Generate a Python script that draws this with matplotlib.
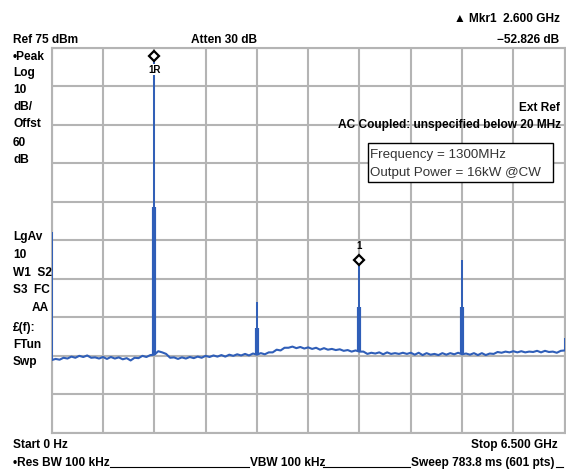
import numpy as np
import matplotlib
matplotlib.use('Agg')
import matplotlib.pyplot as plt
from matplotlib import font_manager
from matplotlib.patches import Rectangle

# spectrum analyser screen: 0 - 6.5 GHz, ref 75 dBm, 10 dB/div
start_ghz = 0.0
stop_ghz = 6.5
ref_dbm = 75
db_per_div = 10

# noise floor read every 50 MHz (dBm)
floor_dbm = [
    -6.1, -5.8, -6.0, -5.5, -5.7, -5.2, -5.5, -5.0, -5.3, -4.9,
    -5.5, -5.4, -5.7, -5.3, -5.8, -5.3, -5.7, -5.4, -5.9, -5.6,
    -6.2, -5.5, -5.6, -5.0, -5.3, -4.8, -4.7, -3.8, -4.1, -4.5,
    -5.5, -5.4, -5.8, -5.4, -5.7, -5.3, -5.6, -5.2, -5.5, -5.0,
    -5.3, -4.9, -5.2, -4.8, -5.2, -4.7, -5.0, -4.6, -4.9, -4.5,
    -4.9, -4.4, -4.7, -4.3, -4.6, -4.1, -4.1, -3.4, -3.6, -2.9,
    -2.9, -2.6, -3.0, -2.7, -3.1, -2.8, -3.2, -2.9, -3.4, -3.0,
    -3.4, -3.2, -3.5, -3.3, -3.7, -3.5, -3.9, -3.6, -3.9, -3.9,
    -4.5, -4.2, -4.4, -4.1, -4.6, -4.1, -4.5, -4.3, -4.5, -4.2,
    -4.5, -4.2, -4.7, -4.2, -4.8, -4.3, -4.7, -4.5, -4.8, -4.3,
    -4.7, -4.3, -4.6, -4.2, -4.6, -4.4, -4.7, -4.3, -4.8, -4.3,
    -4.8, -4.4, -4.5, -4.0, -4.2, -3.9, -4.1, -3.8, -4.1, -3.8,
    -4.1, -3.9, -4.0, -3.7, -4.1, -3.7, -4.0, -3.9, -4.2, -3.7,
    -3.6,
]
floor_ghz = np.linspace(start_ghz, stop_ghz, len(floor_dbm))

# discrete lines: LO feedthrough, carrier, harmonics, band edge
spike_ghz = [0.0, 1.3, 2.6, 3.9, 5.2, 6.5]
spike_peak_dbm = [27.2, 72.9, 9.1, 20.0, 19.8, -0.3]
spike_shoulder_dbm = [np.nan, 33.7, 2.3, 7.8, 7.7, np.nan]

trace_col = '#2f5eb8'
grid_col = '#b4b4b4'
W, H = 566, 470

# narrow bold font like the instrument screen, if there is one
names = {f.name for f in font_manager.fontManager.ttflist}
if 'Liberation Sans Narrow' in names:
    fam, fs = 'Liberation Sans Narrow', 10.5
else:
    fam, fs = 'Liberation Sans', 8.6
plt.rcParams['font.family'] = [fam, 'DejaVu Sans']
plt.rcParams['font.weight'] = 'bold'

fig = plt.figure(figsize=(W / 100, H / 100), dpi=100)
fig.patch.set_facecolor('white')

ax_l, ax_r, ax_t, ax_b = 51.7, 564.7, 48.0, 432.8
ax = fig.add_axes([ax_l / W, 1 - ax_b / H, (ax_r - ax_l) / W, (ax_b - ax_t) / H])
ax.set_xlim(start_ghz, stop_ghz)
ax.set_ylim(ref_dbm - 10 * db_per_div, ref_dbm)
ax.set_xticks(np.linspace(start_ghz, stop_ghz, 11))
ax.set_yticks(np.arange(ref_dbm - 10 * db_per_div, ref_dbm + 1, db_per_div))
ax.tick_params(length=0, labelbottom=False, labelleft=False)
ax.grid(True, color=grid_col, lw=1.5)
ax.set_axisbelow(True)
for s in ax.spines.values():
    s.set_color(grid_col)
    s.set_linewidth(1.5)

# trace
ax.plot(floor_ghz, floor_dbm, color=trace_col, lw=1.5, zorder=3)
base = np.interp(spike_ghz, floor_ghz, floor_dbm)
ax.vlines(spike_ghz, base, spike_peak_dbm, color=trace_col, lw=1.4, zorder=3)
ax.vlines(spike_ghz, base, spike_shoulder_dbm, color=trace_col, lw=3.0, zorder=3)

# markers
ax.plot([1.3], [spike_peak_dbm[1]], marker='D', ms=5, mfc='white', mec='black', mew=1.6,
        zorder=5, clip_on=False)
ax.annotate('1R', (1.3, spike_peak_dbm[1]), xytext=(0, -10), textcoords='offset points',
            ha='center', va='center', fontsize=7, zorder=6,
            bbox=dict(boxstyle='square,pad=0.05', fc='white', ec='none'))
ax.plot([3.9], [spike_peak_dbm[3]], marker='D', ms=5, mfc='white', mec='black', mew=1.6, zorder=5)
ax.annotate('1', (3.9, spike_peak_dbm[3]), xytext=(0, 10), textcoords='offset points',
            ha='center', va='center', fontsize=7, zorder=6)


def ftxt(x, y, s, ha='left', **kw):
    fig.text(x / W, 1 - y / H, s, ha=ha, va='baseline', fontsize=fs, **kw)


# header
ftxt(13, 43, 'Ref 75 dBm')
ftxt(191, 43, 'Atten 30 dB')
ftxt(560, 22, '▲ Mkr1  2.600 GHz', ha='right')
ftxt(559, 43, '\u221252.826 dB', ha='right')

# left annotation column
for y, s in zip([60, 76, 93, 110, 127, 146, 163],
                ['•Peak', 'Log', '10', 'dB/', 'Offst', '60', 'dB']):
    ftxt(13, y, s)
for y, s in zip([240, 258, 276, 293, 331, 348, 365],
                ['LgAv', '10', 'W1  S2', 'S3  FC', '£(f):', 'FTun', 'Swp']):
    ftxt(13, y, s)
ftxt(49, 311, 'AA', ha='right')

ftxt(560, 111, 'Ext Ref', ha='right')
ftxt(561, 128, 'AC Coupled: unspecified below 20 MHz', ha='right')

# footer
ftxt(13, 448, 'Start 0 Hz')
ftxt(558, 448, 'Stop 6.500 GHz', ha='right')
ftxt(13, 466, '•Res BW 100 kHz')
ftxt(250, 466, 'VBW 100 kHz')
ftxt(411, 466, 'Sweep 783.8 ms (601 pts)')
for x0, x1 in [(110, 249), (323, 410), (556, 563)]:
    fig.add_artist(plt.Line2D([x0 / W, x1 / W], [1 - 467 / H, 1 - 467 / H],
                              color='black', lw=0.8))

# info box
fig.add_artist(Rectangle((368 / W, 1 - 182 / H), (553 - 368) / W, (182 - 143) / H,
                         transform=fig.transFigure, fc='white', ec='black', lw=1.0, zorder=10))
fig.text(370 / W, 1 - 158 / H, 'Frequency = 1300MHz', family='Liberation Sans',
         fontweight='normal', fontsize=9.6, color='#333333', zorder=11)
fig.text(370 / W, 1 - 176 / H, 'Output Power = 16kW @CW', family='Liberation Sans',
         fontweight='normal', fontsize=9.6, color='#333333', zorder=11)

fig.savefig('out.png', dpi=100)
